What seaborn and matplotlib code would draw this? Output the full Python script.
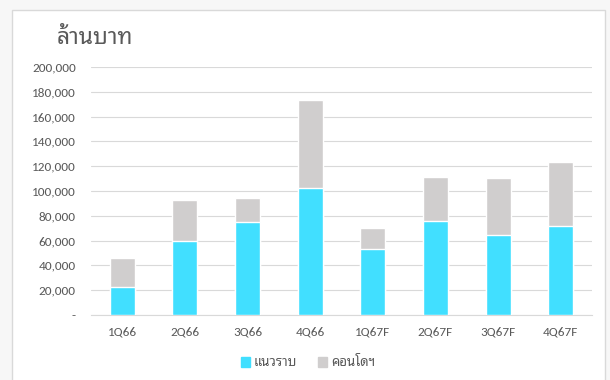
import matplotlib
matplotlib.use("Agg")
import matplotlib.pyplot as plt
import seaborn as sns
import pandas as pd
from matplotlib.patches import Rectangle
from matplotlib.ticker import FuncFormatter, MultipleLocator
from matplotlib import font_manager

categories = ["1Q66", "2Q66", "3Q66", "4Q66", "1Q67F", "2Q67F", "3Q67F", "4Q67F"]
lowrise = [22500, 59500, 75000, 102500, 53000, 75800, 64500, 72000]
condo = [23500, 33200, 19400, 71000, 17000, 35200, 46000, 51400]
series_names = ["แนวราบ", "คอนโดฯ"]
title = "ล้านบาท"

sns.set_theme(style="white")
installed = {f.name for f in font_manager.fontManager.ttflist}
fams = [f for f in ["Carlito", "Noto Sans Thai Looped", "Noto Sans Thai", "DejaVu Sans"] if f in installed]
plt.rcParams['font.family'] = fams

fig = plt.figure(figsize=(6.1, 3.8), dpi=100)
fig.patch.set_facecolor("#f7f7f7")
frame = Rectangle((12/610, -0.1), (605-12)/610, 1.1 - 10/380, transform=fig.transFigure,
                  facecolor="white", edgecolor="#d9d9d9", linewidth=1.0, zorder=-10)
fig.patches.append(frame)
ax = fig.add_axes([91/610, 1 - 315/380, (592-91)/610, (315-67)/380])
ax.set_facecolor("none")

df = pd.DataFrame({"cat": categories, "low": lowrise, "condo": condo})
df["total"] = df["low"] + df["condo"]

blue = "#41DFFF"
grey = "#D0CECE"
sns.barplot(data=df, x="cat", y="total", color=grey, width=0.4, ax=ax, saturation=1, zorder=2)
sns.barplot(data=df, x="cat", y="low", color=blue, width=0.4, ax=ax, saturation=1, zorder=3)

ax.set_ylim(0, 200000)
ax.set_xlim(-0.5, len(categories) - 0.5)
ax.yaxis.set_major_locator(MultipleLocator(20000))
ax.yaxis.set_major_formatter(FuncFormatter(lambda v, p: "-" if v == 0 else f"{int(v):,}"))
ax.grid(axis="y", color="#d9d9d9", linewidth=0.8, zorder=0)
ax.set_axisbelow(True)
for s in ["top", "right", "left"]:
    ax.spines[s].set_visible(False)
ax.spines["bottom"].set_color("#d9d9d9")
ax.spines["bottom"].set_linewidth(0.8)
ax.set_xlabel("")
ax.set_ylabel("")
ax.tick_params(axis="both", length=0, labelsize=9.5, colors="#595959")
ax.tick_params(axis="x", pad=8)
ax.tick_params(axis="y", pad=11)

fig.text(57/610, 1 - 37/380, title, fontsize=16.5, color="#595959", va="center", ha="left")

handles = [Rectangle((0, 0), 1, 1, color=blue), Rectangle((0, 0), 1, 1, color=grey)]
fig.legend(handles, series_names, loc="center", bbox_to_anchor=(308/610, 1 - 362/380), ncol=2,
           frameon=False, fontsize=9.5, labelcolor="#595959", handlelength=0.7, handleheight=0.7,
           handletextpad=0.3, columnspacing=1.6)

fig.savefig("out.png", dpi=100, facecolor=fig.get_facecolor())
